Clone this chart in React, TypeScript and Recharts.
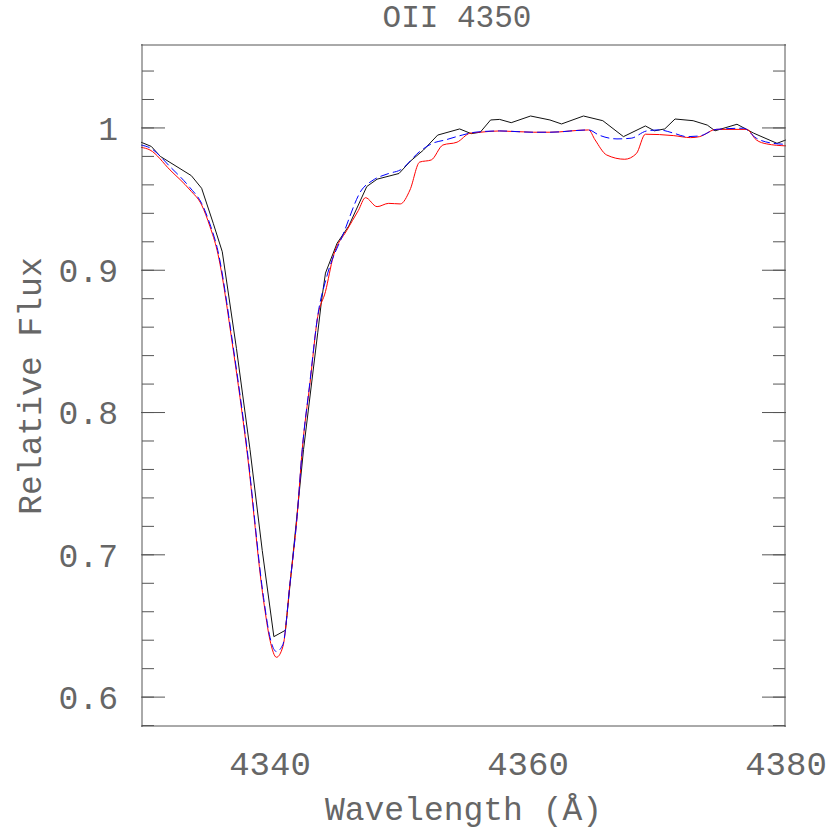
import React from 'react';
import { LineChart, Line, XAxis, YAxis } from 'recharts';

// observed spectrum (black)
const obsWave = [4330.0, 4330.8, 4331.5, 4333.9, 4334.7, 4335.6, 4336.3, 4337.4, 4338.45, 4339.4, 4340.3, 4341.2, 4342.6, 4343.7, 4344.0, 4344.3, 4345.2, 4346.1, 4347.5, 4348.3, 4350.0, 4350.9, 4351.9, 4353.0, 4354.7, 4355.6, 4356.3, 4357.1, 4357.8, 4358.7, 4360.2, 4361.7, 4362.6, 4364.3, 4365.8, 4367.4, 4369.1, 4369.8, 4370.6, 4371.4, 4372.8, 4373.9, 4374.5, 4376.2, 4377.5, 4379.3, 4380.0];
const obsFlux = [0.990, 0.987, 0.980, 0.9665, 0.9576, 0.933, 0.913, 0.845, 0.774, 0.703, 0.6425, 0.647, 0.774, 0.856, 0.879, 0.898, 0.919, 0.931, 0.9588, 0.964, 0.968, 0.9768, 0.9845, 0.995, 0.9993, 0.996, 0.997, 1.0056, 1.006, 1.0037, 1.0084, 1.0056, 1.0028, 1.0084, 1.0051, 0.9939, 1.0014, 0.998, 0.9993, 1.0063, 1.0051, 1.002, 0.998, 1.0026, 0.9963, 0.9892, 0.9916];

// full model (red)
const modelWave = [4330.0, 4330.7, 4332.25, 4333.8, 4334.7, 4335.35, 4335.9, 4337.15, 4338.2, 4339.5, 4340.0, 4340.5, 4341.0, 4341.55, 4342.1, 4342.5, 4343.1, 4343.7, 4344.3, 4344.9, 4345.95, 4346.85, 4347.4, 4348.3, 4349.2, 4350.1, 4350.85, 4351.6, 4352.5, 4353.4, 4354.5, 4355.5, 4356.3, 4357.8, 4360.4, 4361.7, 4364.7, 4365.2, 4366.1, 4367.5, 4368.4, 4369.1, 4371.3, 4372.6, 4373.3, 4374.6, 4376.95, 4377.7, 4378.5, 4380.0];
const modelFlux = [0.9864, 0.9845, 0.9705, 0.9564, 0.9459, 0.9306, 0.914, 0.844, 0.774, 0.668, 0.640, 0.628, 0.6355, 0.680, 0.727, 0.774, 0.8206, 0.8674, 0.885, 0.9096, 0.928, 0.942, 0.951, 0.9447, 0.947, 0.9466, 0.9564, 0.976, 0.9775, 0.988, 0.990, 0.9963, 0.997, 0.9979, 0.997, 0.997, 0.9986, 0.9916, 0.981, 0.978, 0.982, 0.9956, 0.9946, 0.9932, 0.9939, 0.999, 0.999, 0.9916, 0.9888, 0.9874];

// fit without OII (blue dashed)
const fitWave = [4330.0, 4330.7, 4332.25, 4333.8, 4334.7, 4335.4, 4335.9, 4337.15, 4338.2, 4339.5, 4340.0, 4340.5, 4341.0, 4341.55, 4342.1, 4342.5, 4343.1, 4343.7, 4344.4, 4345.7, 4347.1, 4347.9, 4349.2, 4350.1, 4351.6, 4352.6, 4353.6, 4354.9, 4355.9, 4357.8, 4360.4, 4361.7, 4364.7, 4365.5, 4366.9, 4368.0, 4369.2, 4370.2, 4371.3, 4372.3, 4373.3, 4374.6, 4376.7, 4377.7, 4379.0, 4380.0];
const fitFlux = [0.988, 0.986, 0.9728, 0.958, 0.947, 0.931, 0.916, 0.846, 0.776, 0.670, 0.642, 0.632, 0.637, 0.680, 0.727, 0.774, 0.822, 0.868, 0.8955, 0.926, 0.9564, 0.9628, 0.968, 0.9705, 0.9834, 0.9892, 0.9916, 0.995, 0.997, 0.9979, 0.997, 0.997, 0.9986, 0.995, 0.9923, 0.9928, 0.9979, 0.9986, 0.9963, 0.9939, 0.9944, 0.999, 0.9998, 0.9928, 0.9892, 0.9885];

const xLabels = [4340, 4360, 4380];
const xMajor = [4340, 4360];
const xMinor = [4335, 4340, 4345, 4350, 4355, 4360, 4365, 4370, 4375];
const yLabels = [0.6, 0.7, 0.8, 0.9, 1];
const yMinor = [0.58, 0.6, 0.62, 0.64, 0.66, 0.68, 0.7, 0.72, 0.74, 0.76, 0.78, 0.8, 0.82, 0.84, 0.86, 0.88, 0.9, 0.92, 0.94, 0.96, 0.98, 1, 1.02, 1.04];

const X_DOMAIN = [4330, 4380];
const Y_DOMAIN = [0.579, 1.059];

const toPoints = (w: number[], f: number[]) => w.map((wl, i) => ({ wl, flux: f[i] }));
const obsData = toPoints(obsWave, obsFlux);
const modelData = toPoints(modelWave, modelFlux);
const fitData = toPoints(fitWave, fitFlux);

const FONT = "'Liberation Mono', monospace";
const INK = '#666';
const FRAME = '#555';

// tick lines only, no text
const NoLabel = () => <g />;

const App = () => {
  return (
    <div style={{ position: 'absolute', left: 0, top: 0, width: 830, height: 830, background: '#fff', fontFamily: FONT }}>
      <div style={{ position: 'absolute', left: 307, top: 3, width: 300, textAlign: 'center', fontSize: 31, lineHeight: '31px', color: INK }}>
        OII 4350
      </div>
      <div style={{ position: 'absolute', left: -117, top: 366, width: 300, height: 40, lineHeight: '40px', textAlign: 'center', fontSize: 33, color: INK, transform: 'rotate(-90deg)' }}>
        Relative Flux
      </div>
      <LineChart width={830} height={830} margin={{ top: 44, right: 44, bottom: 0, left: 0 }}>
        {/* labelled axes */}
        <XAxis xAxisId="lab" type="number" dataKey="wl" domain={X_DOMAIN} allowDataOverflow ticks={xLabels} interval={0}
          height={103} axisLine={false} tickLine={false} tickSize={0} tickMargin={24}
          tick={{ fill: INK, fontSize: 34, fontFamily: FONT }}
          label={{ value: 'Wavelength (Å)', position: 'insideBottom', offset: 10, fill: INK, fontSize: 33, fontFamily: FONT }} />
        <YAxis yAxisId="lab" type="number" domain={Y_DOMAIN} allowDataOverflow ticks={yLabels} interval={0}
          width={141} axisLine={false} tickLine={false} tickSize={0} tickMargin={23}
          tickFormatter={(v: number) => String(v)}
          tick={{ fill: INK, fontSize: 33, fontFamily: FONT }} />

        {/* frame and inward ticks */}
        <XAxis xAxisId="bMin" orientation="bottom" mirror height={1} type="number" domain={X_DOMAIN} allowDataOverflow ticks={xMinor} interval={0}
          tick={NoLabel} tickSize={12} stroke={FRAME} />
        <XAxis xAxisId="bMaj" orientation="bottom" mirror height={1} type="number" domain={X_DOMAIN} allowDataOverflow ticks={xMajor} interval={0}
          tick={NoLabel} tickSize={23} axisLine={false} stroke={FRAME} />
        <XAxis xAxisId="tMin" orientation="top" mirror height={1} type="number" domain={X_DOMAIN} allowDataOverflow ticks={xMinor} interval={0}
          tick={NoLabel} tickSize={12} stroke={FRAME} />
        <XAxis xAxisId="tMaj" orientation="top" mirror height={1} type="number" domain={X_DOMAIN} allowDataOverflow ticks={xMajor} interval={0}
          tick={NoLabel} tickSize={23} axisLine={false} stroke={FRAME} />
        <YAxis yAxisId="lMin" orientation="left" mirror width={1} type="number" domain={Y_DOMAIN} allowDataOverflow ticks={yMinor} interval={0}
          tick={NoLabel} tickSize={12} stroke={FRAME} />
        <YAxis yAxisId="lMaj" orientation="left" mirror width={1} type="number" domain={Y_DOMAIN} allowDataOverflow ticks={yLabels} interval={0}
          tick={NoLabel} tickSize={24} axisLine={false} stroke={FRAME} />
        <YAxis yAxisId="rMin" orientation="right" mirror width={1} type="number" domain={Y_DOMAIN} allowDataOverflow ticks={yMinor} interval={0}
          tick={NoLabel} tickSize={12} stroke={FRAME} />
        <YAxis yAxisId="rMaj" orientation="right" mirror width={1} type="number" domain={Y_DOMAIN} allowDataOverflow ticks={yLabels} interval={0}
          tick={NoLabel} tickSize={24} axisLine={false} stroke={FRAME} />

        <Line xAxisId="lab" yAxisId="lab" data={obsData} dataKey="flux" type="linear" stroke="#111" strokeWidth={1} dot={false} isAnimationActive={false} />
        <Line xAxisId="lab" yAxisId="lab" data={modelData} dataKey="flux" type="monotone" stroke="#ff0000" strokeWidth={1} dot={false} isAnimationActive={false} />
        <Line xAxisId="lab" yAxisId="lab" data={fitData} dataKey="flux" type="monotone" stroke="#0000ff" strokeWidth={1} strokeDasharray="9 4" dot={false} isAnimationActive={false} />
      </LineChart>
    </div>
  );
};

export default App;
